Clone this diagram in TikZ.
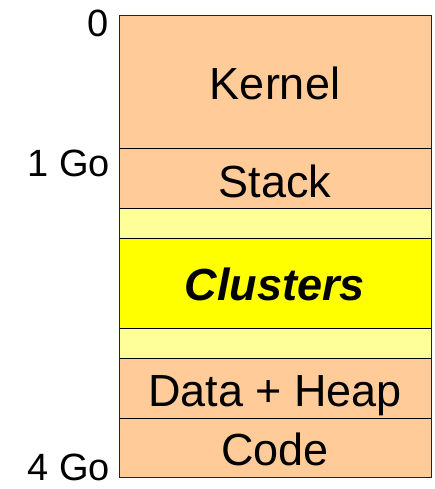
\documentclass[tikz,border=0pt]{standalone}
\usepackage{fontspec}
\setmainfont{Liberation Sans}
\definecolor{peach}{HTML}{FFCC99}
\definecolor{paleyellow}{HTML}{FFFF99}
\definecolor{brightyellow}{HTML}{FFFF00}
\begin{document}
\begin{tikzpicture}[x=1pt,y=-1pt,
  seg/.style={draw=black,line width=0.9pt},
  boxtext/.style={anchor=base,inner sep=0pt,font=\fontsize{45}{50}\selectfont},
  addr/.style={anchor=base east,inner sep=0pt,text depth=0pt,font=\fontsize{38}{42}\selectfont}]
\useasboundingbox (0,0) rectangle (435,489);
\fill[peach] (119,16) rectangle (431,148);
\fill[peach] (119,148) rectangle (431,208);
\fill[paleyellow] (119,208) rectangle (431,238);
\fill[brightyellow] (119,238) rectangle (431,328);
\fill[paleyellow] (119,328) rectangle (431,358);
\fill[peach] (119,358) rectangle (431,418);
\fill[peach] (119,418) rectangle (431,477);
\draw[seg] (119,148) -- (431,148);
\draw[seg] (119,208) -- (431,208);
\draw[seg] (119,238) -- (431,238);
\draw[seg] (119,328) -- (431,328);
\draw[seg] (119,358) -- (431,358);
\draw[seg] (119,418) -- (431,418);
\draw[draw=black!75!brown,line width=1pt] (119,16) rectangle (431,477);
\node[boxtext] (kernel) at (275,100) {Kernel};
\node[boxtext] (stack) at (275,197) {Stack};
\node[boxtext] (clusters) at (275,300) {\textbf{\textit{Clusters}}};
\node[boxtext] (data) at (275,406) {Data + Heap};
\node[boxtext] (code) at (275,465) {Code};
\node[addr] (a0) at (109,37) {0};
\node[addr] (a1) at (110,176) {1 Go};
\node[addr] (a4) at (110,480) {4 Go};
\end{tikzpicture}
\end{document}
